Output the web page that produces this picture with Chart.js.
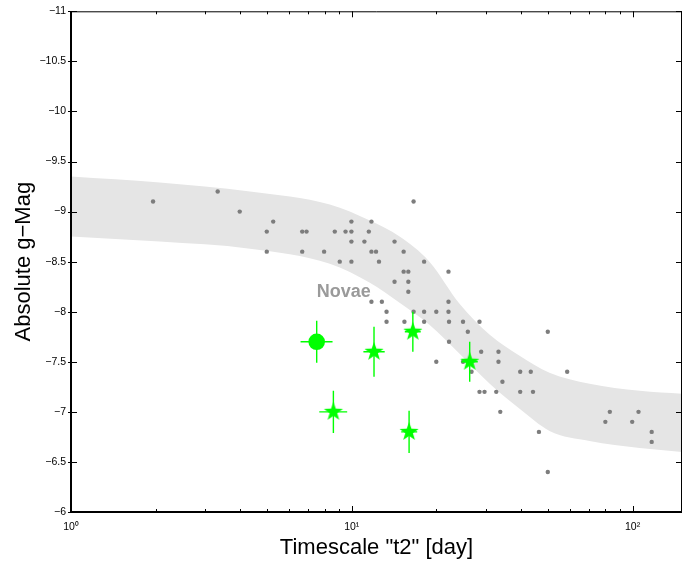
<!DOCTYPE html>
<html>
<head>
<meta charset="UTF-8">
<title>Absolute g-Mag vs t2</title>
<script src="https://cdn.jsdelivr.net/npm/chart.js"></script>
<style>
  body { margin: 0; background: #fff; }
  #wrap { width: 694px; height: 565px; }
</style>
</head>
<body>
<div id="wrap"><canvas id="chart"></canvas></div>
<script>
// novae: decline time t2 [day] and peak absolute g mag
const novaeT2 = [1.96, 3.33, 3.99, 5.25, 4.98, 4.98, 6.66, 6.9, 6.66, 7.97,
  8.7, 9.5, 9.06, 9.97, 9.97, 11.75, 11.5, 9.97, 11.09, 14.2,
  11.75, 12.2, 15.3, 9.97, 12.5, 18.1, 16.6, 15.3, 15.9, 22.1,
  14.2, 15.9, 15.9, 11.75, 12.8, 22.1, 13.3, 16.6, 18.1, 20.0,
  22.1, 13.3, 15.4, 18.1, 22.2, 24.9, 28.5, 25.9, 22.2, 28.9,
  33.3, 20.0, 24.9, 33.3, 26.7, 39.8, 34.4, 28.5, 29.7, 32.7,
  39.8, 33.8, 49.9, 58.5, 43.4, 44.2, 46.4, 49.9, 80.0, 83.0,
  99.7, 105, 117, 117];
const novaeMag = [-9.1, -9.2, -9.0, -8.9, -8.8, -8.6, -8.8, -8.8, -8.6, -8.6,
  -8.8, -8.8, -8.5, -8.8, -8.9, -8.9, -8.8, -8.7, -8.7, -8.7,
  -8.6, -8.6, -8.6, -8.5, -8.5, -8.5, -9.1, -8.4, -8.4, -8.4,
  -8.3, -8.3, -8.2, -8.1, -8.1, -8.1, -8.0, -8.0, -8.0, -8.0,
  -8.0, -7.9, -7.9, -7.9, -7.9, -7.9, -7.9, -7.8, -7.7, -7.6,
  -7.6, -7.5, -7.5, -7.5, -7.4, -7.4, -7.3, -7.2, -7.2, -7.2,
  -7.2, -7.0, -7.8, -7.4, -7.4, -7.2, -6.8, -6.4, -6.9, -7.0,
  -6.9, -7.0, -6.8, -6.7];

// grey novae band
const bandT2 = [1.0, 2.07, 4.34, 8.35, 11.6, 14.8, 18.9, 24.2, 31.0, 39.6, 50.6, 70.3, 106, 150];
const bandUpper = [-9.35, -9.29, -9.20, -9.07, -8.91, -8.75, -8.50, -8.08, -7.77, -7.56, -7.39, -7.28, -7.21, -7.18];
const bandLower = [-8.75, -8.70, -8.63, -8.48, -8.29, -8.09, -7.87, -7.58, -7.28, -7.03, -6.81, -6.71, -6.64, -6.60];

// green stars
const starT2 = [8.6, 12.0, 16.5, 26.3, 16.0];
const starMag = [-7.0, -7.6, -7.8, -7.5, -6.8];
const starMagErr = [0.21, 0.25, 0.2, 0.2, 0.21];
const starT2Lo = [7.66, 11.0, 15.45, 24.6, 15.0];
const starT2Hi = [9.63, 13.1, 17.6, 28.1, 17.1];

// green circle
const dotT2 = [7.5];
const dotMag = [-7.7];
const dotMagErr = [0.21];
const dotT2Lo = [6.57];
const dotT2Hi = [8.54];

const yTicks = [-11, -10.5, -10, -9.5, -9, -8.5, -8, -7.5, -7, -6.5, -6];
const sup = ['\u2070', '\u00b9', '\u00b2'];
const GREEN = '#00ff00';
const FONT = '"Liberation Sans", Helvetica, Arial, sans-serif';

function pts(xs, ys) { return xs.map((v, i) => ({x: v, y: ys[i]})); }

// filled five point star for the marker
function makeStar(r) {
  const c = document.createElement('canvas');
  const s = Math.ceil(r * 2 + 2);
  c.width = s; c.height = s;
  const g = c.getContext('2d');
  g.fillStyle = GREEN;
  g.beginPath();
  for (let i = 0; i < 10; i++) {
    const rr = i % 2 ? r * 0.4 : r;
    const a = -Math.PI / 2 + i * Math.PI / 5;
    g.lineTo(s / 2 + rr * Math.cos(a), s / 2 + rr * Math.sin(a));
  }
  g.closePath();
  g.fill();
  return c;
}

const errorBars = {
  id: 'errorBars',
  beforeDatasetDraw(chart, args) {
    const ds = chart.data.datasets[args.index];
    if (!ds.err) return;
    const {ctx, scales: {x, y}} = chart;
    ctx.save();
    ctx.strokeStyle = GREEN;
    ctx.lineWidth = 1.4;
    ds.data.forEach((p, i) => {
      const px = x.getPixelForValue(p.x), py = y.getPixelForValue(p.y);
      ctx.beginPath();
      ctx.moveTo(px, y.getPixelForValue(p.y - ds.err.dy[i]));
      ctx.lineTo(px, y.getPixelForValue(p.y + ds.err.dy[i]));
      ctx.moveTo(x.getPixelForValue(ds.err.lo[i]), py);
      ctx.lineTo(x.getPixelForValue(ds.err.hi[i]), py);
      ctx.stroke();
    });
    ctx.restore();
  }
};

const frame = {
  id: 'frame',
  afterDatasetsDraw(chart) {
    const {ctx, chartArea: a, scales: {x, y}} = chart;
    ctx.save();
    ctx.fillStyle = '#9a9a9a';
    ctx.font = 'bold 18px ' + FONT;
    ctx.textAlign = 'center';
    ctx.textBaseline = 'middle';
    ctx.fillText('Novae', x.getPixelForValue(9.37), y.getPixelForValue(-8.2));

    ctx.strokeStyle = '#000';
    ctx.lineWidth = 1;
    ctx.beginPath();
    y.ticks.forEach(t => {
      const py = Math.round(y.getPixelForValue(t.value)) + 0.5;
      ctx.moveTo(a.left - 3, py); ctx.lineTo(a.left + 6, py);
      ctx.moveTo(a.right - 6, py); ctx.lineTo(a.right, py);
    });
    x.ticks.forEach(t => {
      const e = Math.floor(Math.log10(t.value) + 1e-9);
      const m = t.value / Math.pow(10, e);
      if (Math.abs(m - Math.round(m)) > 1e-6 || t.value <= x.min) return;
      const len = Math.round(m) === 1 ? 6 : 3;
      const px = Math.round(x.getPixelForValue(t.value)) + 0.5;
      ctx.moveTo(px, a.bottom); ctx.lineTo(px, a.bottom - len);
      ctx.moveTo(px, a.top); ctx.lineTo(px, a.top + len);
    });
    ctx.stroke();

    ctx.beginPath();
    ctx.moveTo(a.left, a.top + 0.5); ctx.lineTo(a.right - 0.5, a.top + 0.5);
    ctx.lineTo(a.right - 0.5, a.bottom);
    ctx.stroke();
    ctx.lineWidth = 2;
    ctx.beginPath();
    ctx.moveTo(a.left, a.top); ctx.lineTo(a.left, a.bottom); ctx.lineTo(a.right, a.bottom);
    ctx.stroke();
    ctx.restore();
  }
};

new Chart(document.getElementById('chart'), {
  type: 'scatter',
  data: {
    datasets: [
      {
        data: pts(dotT2, dotMag),
        pointStyle: 'circle', pointRadius: 8.3,
        backgroundColor: GREEN, borderWidth: 0,
        err: {dy: dotMagErr, lo: dotT2Lo, hi: dotT2Hi},
        order: 1
      },
      {
        data: pts(starT2, starMag),
        pointStyle: makeStar(10),
        err: {dy: starMagErr, lo: starT2Lo, hi: starT2Hi},
        order: 2
      },
      {
        data: pts(novaeT2, novaeMag),
        pointRadius: 2.2, backgroundColor: '#7d7d7d', borderWidth: 0,
        order: 3
      },
      {
        data: pts(bandT2, bandUpper),
        showLine: true, pointRadius: 0, borderWidth: 0,
        borderColor: 'rgba(0,0,0,0)', cubicInterpolationMode: 'monotone',
        fill: false, order: 10
      },
      {
        data: pts(bandT2, bandLower),
        showLine: true, pointRadius: 0, borderWidth: 0,
        borderColor: 'rgba(0,0,0,0)', cubicInterpolationMode: 'monotone',
        backgroundColor: '#e5e5e5', fill: '-1', order: 9
      }
    ]
  },
  options: {
    responsive: true,
    maintainAspectRatio: false,
    animation: false,
    events: [],
    layout: {padding: {top: 9, right: 12, left: 0, bottom: 0}},
    plugins: {legend: {display: false}, tooltip: {enabled: false}},
    scales: {
      x: {
        type: 'logarithmic',
        min: 1, max: 150,
        grid: {display: false, drawTicks: false},
        border: {display: false},
        ticks: {
          autoSkip: false, maxRotation: 0, padding: 9,
          color: '#000', font: {family: FONT, size: 10.5},
          callback: v => {
            const e = Math.log10(v);
            return Math.abs(e - Math.round(e)) < 1e-9 ? '10' + sup[Math.round(e)] : '';
          }
        },
        title: {
          display: true, text: 'Timescale "t2" [day]', color: '#000',
          font: {family: FONT, size: 22}, padding: {top: 0, bottom: 4}
        },
        afterFit: s => { s.height = 53; }
      },
      y: {
        min: -11, max: -6, reverse: true,
        grid: {display: false, drawTicks: false},
        border: {display: false},
        afterBuildTicks: s => { s.ticks = yTicks.map(v => ({value: v})); },
        ticks: {
          padding: 5, color: '#000', font: {family: FONT, size: 10.5},
          callback: v => (v < 0 ? '\u2212' : '') + Math.abs(v)
        },
        title: {
          display: true, text: 'Absolute g\u2212Mag', color: '#000',
          font: {family: FONT, size: 22}, padding: {top: 11, bottom: 0}
        },
        afterFit: s => { s.width = 71; }
      }
    }
  },
  plugins: [errorBars, frame]
});
</script>
</body>
</html>
